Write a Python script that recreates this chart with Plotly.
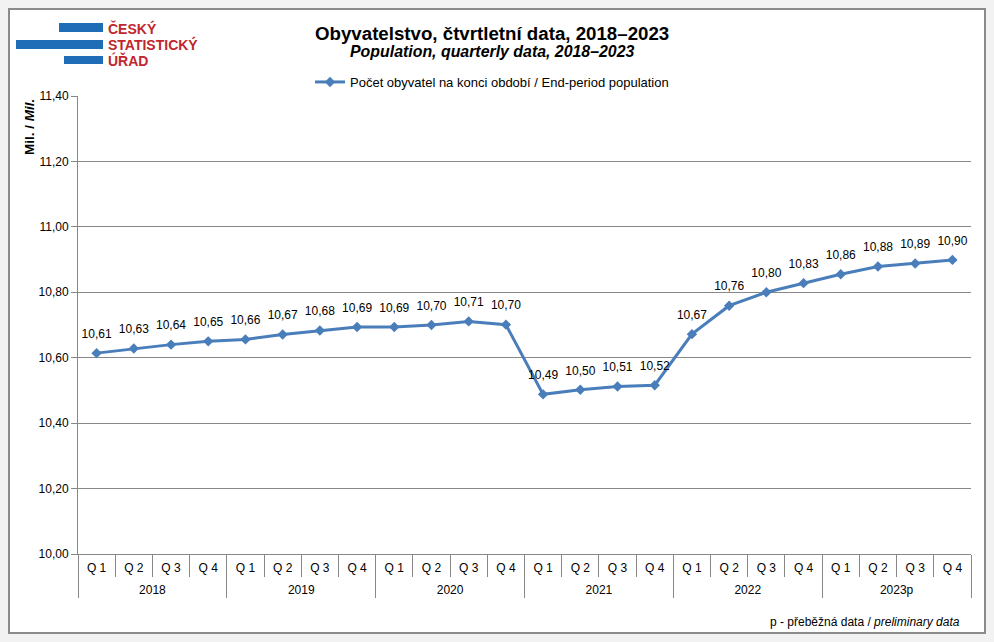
import plotly.graph_objects as go

years = ["2018"] * 4 + ["2019"] * 4 + ["2020"] * 4 + ["2021"] * 4 + ["2022"] * 4 + ["2023p"] * 4
quarters = ["Q 1", "Q 2", "Q 3", "Q 4"] * 6
population = [10.614, 10.628, 10.640, 10.650, 10.656, 10.671, 10.683, 10.694,
              10.694, 10.700, 10.711, 10.701, 10.488, 10.502, 10.512, 10.516,
              10.672, 10.759, 10.800, 10.828, 10.855, 10.879, 10.888, 10.899]
y_ticks = [10.0, 10.2, 10.4, 10.6, 10.8, 11.0, 11.2, 11.4]

# unique category per point, labelled with the quarter
cats = [f"{y} {q}" for y, q in zip(years, quarters)]
n = len(cats)

# year groups: label centres and group boundaries in category index units
year_names, year_centres, year_bounds = [], [], [-0.5]
i = 0
while i < n:
    j = i
    while j < n and years[j] == years[i]:
        j += 1
    year_names.append(years[i])
    year_centres.append((i + j - 1) / 2)
    year_bounds.append(j - 0.5)
    i = j

# page offset: the browser body adds an 8px margin around the figure
OFF = 8
W, H = 978, 626
FONT = "Liberation Sans, Arial, sans-serif"
LINE = "#4a7ebb"
GRID = "#888888"

# plot area in page pixels
PX0, PX1, PY0, PY1 = 78, 971, 96, 554


def px(x):
    return (x - PX0) / (PX1 - PX0)


def py(y):
    return (PY1 - y) / (PY1 - PY0)


fig = go.Figure()
fig.add_trace(go.Scatter(
    x=cats, y=population,
    mode="lines+markers",
    line=dict(color=LINE, width=3),
    marker=dict(symbol="diamond", size=8, color=LINE),
    name="Počet obyvatel na konci období / End-period population",
    cliponaxis=False,
))
# data labels (transparent, larger marker only to set the label offset)
fig.add_trace(go.Scatter(
    x=cats, y=population,
    mode="markers+text",
    marker=dict(size=18, color="rgba(0,0,0,0)"),
    texttemplate="%{y:.2f}", textposition="top center",
    textfont=dict(family=FONT, size=12, color="#000000"),
    showlegend=False, hoverinfo="skip", cliponaxis=False,
))
# empty trace that activates the year-label axis (x2)
fig.add_trace(go.Scatter(
    x=year_centres, y=[None] * len(year_centres), xaxis="x2", yaxis="y",
    mode="lines", showlegend=False, hoverinfo="skip",
))

shapes = [
    dict(type="rect", xref="paper", yref="paper", x0=px(OFF + 1), x1=px(OFF + W - 1),
         y0=py(OFF + H - 1), y1=py(OFF + 1),
         fillcolor="rgba(0,0,0,0)", line=dict(color="#8a8a8a", width=2)),
]
# logo bars (decoration)
for (x0, x1, y0, y1) in [(59, 103, 23, 32), (16, 103, 40, 49), (64, 103, 56, 64)]:
    shapes.append(dict(type="rect", xref="paper", yref="paper", x0=px(x0), x1=px(x1),
                       y0=py(y1), y1=py(y0), fillcolor="#1e6db6", line=dict(width=0)))


def ann(text, x, y, size=12, **kw):
    d = dict(text=text, x=px(x), y=py(y), xref="paper", yref="paper", showarrow=False,
             xanchor="center", yanchor="middle",
             font=dict(family=FONT, size=size, color=kw.pop("color", "#000")))
    d.update(kw)
    return d


annotations = [
    ann("<b>Obyvatelstvo, čtvrtletní data, 2018–2023</b>", 492, 33, size=18.7),
    ann("<b><i>Population, quarterly data, 2018–2023</i></b>", 492, 51, size=15.9),
    ann("<b>Mil. / <i>Mil.</i></b>", 30, 97, size=13.5, yanchor="top", textangle=-90),
    ann("p - přeběžná data / <i>preliminary data</i>", 962, 622, xanchor="right"),
    ann("<b>ČESKÝ</b>", 106, 28, size=14, xanchor="left", color="#c0272d"),
    ann("<b>STATISTICKÝ</b>", 106, 45, size=14, xanchor="left", color="#c0272d"),
    ann("<b>ÚŘAD</b>", 106, 61, size=14, xanchor="left", color="#c0272d"),
]

tickfont = dict(family=FONT, size=12, color="#000")

fig.update_layout(
    width=W, height=H,
    margin=dict(l=PX0 - OFF, r=OFF + W - PX1, t=PY0 - OFF, b=OFF + H - PY1, autoexpand=False),
    paper_bgcolor="white", plot_bgcolor="white",
    separators=", ",
    font=dict(family=FONT, size=12, color="#000"),
    showlegend=True,
    legend=dict(orientation="h", xref="container", yref="container",
                x=(492 - OFF) / W, xanchor="center", y=1 - (82 - OFF) / H, yanchor="middle",
                bgcolor="rgba(0,0,0,0)", font=dict(family=FONT, size=13, color="#000")),
    shapes=shapes, annotations=annotations,
    xaxis=dict(type="category", categoryorder="array", categoryarray=cats,
               range=[-0.5, n - 0.5], autorange=False,
               tickvals=cats, ticktext=quarters,
               showline=True, linecolor=GRID, linewidth=1,
               ticks="outside", tickson="boundaries", ticklen=22, tickcolor=GRID,
               ticklabelstandoff=3,
               automargin=False, showgrid=False, tickfont=tickfont),
    xaxis2=dict(overlaying="x", anchor="y", side="bottom", type="linear",
                range=[-0.5, n - 0.5], autorange=False,
                tickmode="array", tickvals=year_centres, ticktext=year_names,
                ticks="", ticklabelstandoff=27,
                minor=dict(tickmode="array", tickvals=year_bounds, ticks="outside",
                           ticklen=43, tickcolor=GRID, tickwidth=1, showgrid=False),
                showline=False, showgrid=False, zeroline=False, automargin=False,
                tickfont=tickfont),
    yaxis=dict(range=[10.0, 11.4], tickvals=y_ticks, tickformat=".2f", showgrid=True,
               gridcolor=GRID, gridwidth=1, showline=True, linecolor=GRID, linewidth=1,
               ticks="outside", ticklen=6, tickcolor=GRID, zeroline=False, automargin=False,
               tickfont=tickfont),
)

fig.write_html("out.html", post_script="document.body.style.background='#f2f2f2';")
